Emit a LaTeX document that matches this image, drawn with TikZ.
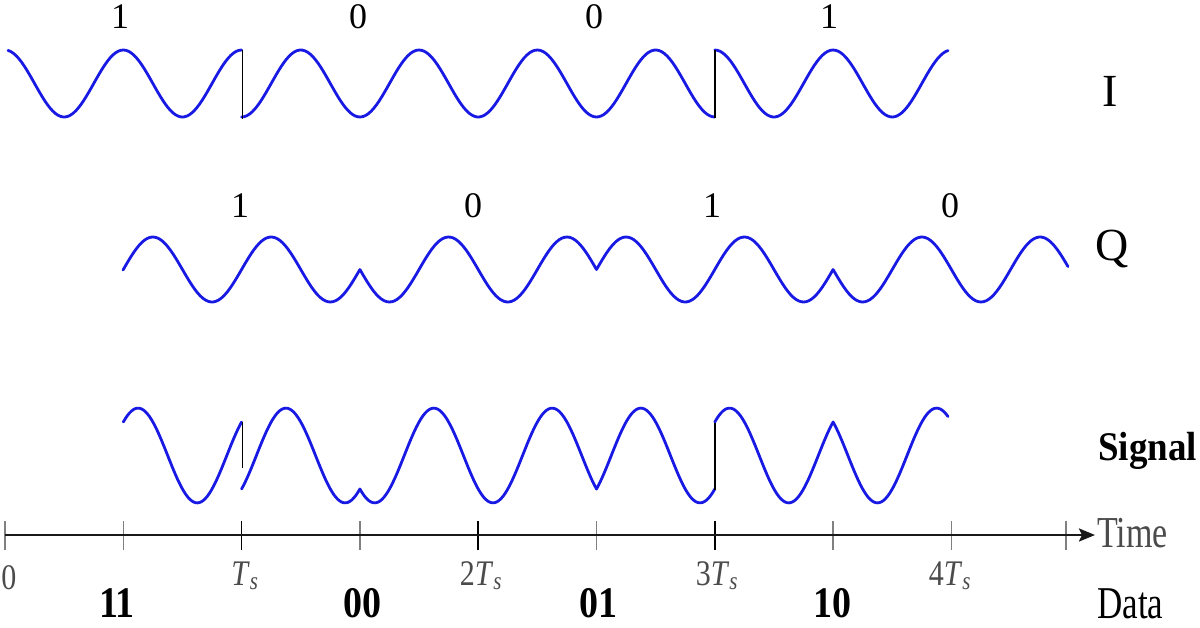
\documentclass[tikz,border=0pt]{standalone}
\usepackage{fontspec}
\setmainfont{Liberation Serif}
\usetikzlibrary{arrows.meta}
\newcommand{\fsz}[1]{\fontsize{#1}{#1}\selectfont}
\definecolor{wavecol}{RGB}{25,25,228}
\definecolor{labgray}{RGB}{75,75,75}
\tikzset{
  wave/.style={draw=wavecol, line width=2.8pt, line join=round, line cap=round},
  jump/.style={draw=black, line width=1.6pt},
  axisline/.style={draw=black!90, line width=2.3pt},
  tickmark/.style={draw=black!50, line width=1.3pt},
  maintick/.style={draw=black, line width=1.5pt},
  bitlab/.style={font=\fsz{36}, inner sep=0pt},
  chanlab/.style={font=\fsz{46}, inner sep=0pt},
  ticklab/.style={font=\fsz{30}, text=labgray, inner sep=0pt, anchor=base},
  databit/.style={font=\fsz{38}\bfseries, inner sep=0pt, anchor=base},
}
\begin{document}
\begin{tikzpicture}[x=1pt,y=-1pt]
\useasboundingbox (0,0) rectangle (1200,627);
% ---------- I channel ----------
\draw[wave] plot[domain=8:241.6,samples=90] (\x,{83.5-33.5*cos((\x-5)/118.3*360)});
\draw[wave] plot[domain=241.6:714.8,samples=180] (\x,{83.5+33.5*cos((\x-5)/118.3*360)});
\draw[wave] plot[domain=714.8:948,samples=90] (\x,{83.5-33.5*cos((\x-5)/118.3*360)});
\coordinate (ij1a) at (242.5,50); \coordinate (ij1b) at (242.5,119);
\coordinate (ij2a) at (714.8,50); \coordinate (ij2b) at (714.8,118);
\draw[jump] (ij1a) -- (ij1b);
\draw[jump] (ij2a) -- (ij2b);
% ---------- Q channel ----------
\draw[wave] plot[domain=123:359.9,samples=90] (\x,{269.5-32.5*sin((\x-5)/118.3*360)})
  -- plot[domain=359.9:596.5,samples=90] (\x,{269.5+32.5*sin((\x-5)/118.3*360)})
  -- plot[domain=596.5:833.1,samples=90] (\x,{269.5-32.5*sin((\x-5)/118.3*360)})
  -- plot[domain=833.1:1068,samples=90] (\x,{269.5+32.5*sin((\x-5)/118.3*360)});
% ---------- Signal ----------
\draw[wave] plot[domain=123.3:241.6,samples=60] (\x,{455.5-33.5*(cos((\x-5)/118.3*360)+sin((\x-5)/118.3*360))});
\draw[wave] plot[domain=241.6:359.9,samples=60] (\x,{455.5-33.5*(-cos((\x-5)/118.3*360)+sin((\x-5)/118.3*360))})
  -- plot[domain=359.9:596.5,samples=110] (\x,{455.5-33.5*(-cos((\x-5)/118.3*360)-sin((\x-5)/118.3*360))})
  -- plot[domain=596.5:714.8,samples=60] (\x,{455.5-33.5*(-cos((\x-5)/118.3*360)+sin((\x-5)/118.3*360))});
\draw[wave] plot[domain=714.8:833.1,samples=60] (\x,{455.5-33.5*(cos((\x-5)/118.3*360)+sin((\x-5)/118.3*360))})
  -- plot[domain=833.1:948,samples=60] (\x,{455.5-33.5*(cos((\x-5)/118.3*360)-sin((\x-5)/118.3*360))});
\coordinate (sj1a) at (242.5,422); \coordinate (sj1b) at (242.5,468);
\coordinate (sj2a) at (714.8,423); \coordinate (sj2b) at (714.8,490);
\draw[jump] (sj1a) -- (sj1b);
\draw[jump] (sj2a) -- (sj2b);
% ---------- bit labels ----------
\node[bitlab] (ib1) at (120,17) {1};
\node[bitlab] (ib2) at (358,17) {0};
\node[bitlab] (ib3) at (594,17) {0};
\node[bitlab] (ib4) at (829,17) {1};
\node[bitlab] (qb1) at (240,206) {1};
\node[bitlab] (qb2) at (473,206) {0};
\node[bitlab] (qb3) at (712,206) {1};
\node[bitlab] (qb4) at (950,206) {0};
% ---------- channel labels ----------
\node[chanlab] (labI) at (1110,91.5) {I};
\node[chanlab, anchor=base] (labQ) at (1112,260) {Q};
\node[font=\fsz{37}\bfseries, inner sep=0pt, anchor=base west] (labS) at (1098,460) {\scalebox{1}[1.1]{Signal}};
% ---------- time axis ----------
\coordinate (ax0) at (5,535);
\coordinate (ax1) at (1095,535);
\foreach \k in {0,1,3,5,7,8} {
  \draw[tickmark] ({5+118.3*\k},521) -- ({5+118.3*\k},550);
}
\foreach \k in {2,4,6} {
  \draw[maintick] ({5+118.3*\k},521) -- ({5+118.3*\k},550);
}
\draw[tickmark] (1066,521) -- (1066,550);
\draw[axisline, -{Stealth[length=16pt,width=13pt,inset=3pt]}] (ax0) -- (ax1);
\node[font=\fsz{34}, text=labgray, inner sep=0pt, anchor=base west] (labT) at (1097,547) {\scalebox{1}[1.3]{Time}};
\node[ticklab] (t0) at (9,589) {\scalebox{1}[1.2]{0}};
\node[ticklab] (t1) at (245,585) {\scalebox{1}[1.2]{\textit{T}\textsubscript{\textit{s}}}};
\node[ticklab] (t2) at (481,585) {\scalebox{1}[1.2]{2\textit{T}\textsubscript{\textit{s}}}};
\node[ticklab] (t3) at (717,585) {\scalebox{1}[1.2]{3\textit{T}\textsubscript{\textit{s}}}};
\node[ticklab] (t4) at (950,585) {\scalebox{1}[1.2]{4\textit{T}\textsubscript{\textit{s}}}};
% ---------- data ----------
\node[databit] (d1) at (117,617) {\scalebox{1}[1.15]{11}};
\node[databit] (d2) at (362,617) {\scalebox{1}[1.15]{00}};
\node[databit] (d3) at (598,617) {\scalebox{1}[1.15]{01}};
\node[databit] (d4) at (832,617) {\scalebox{1}[1.15]{10}};
\node[font=\fsz{35}, inner sep=0pt, anchor=base west] (labD) at (1097,618) {\scalebox{1}[1.3]{Data}};
\end{tikzpicture}
\end{document}
